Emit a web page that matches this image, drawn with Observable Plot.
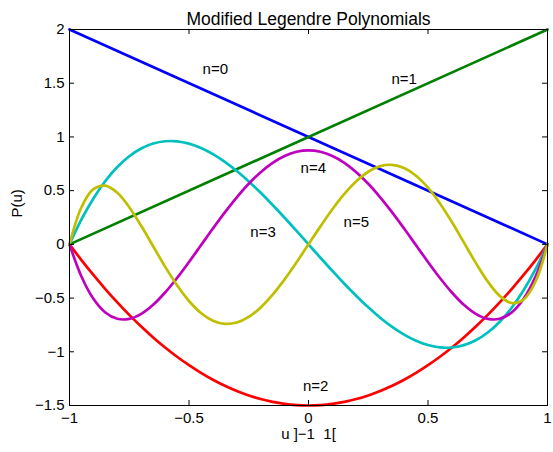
<!DOCTYPE html>
<html>
<head>
<meta charset="utf-8">
<script src="https://cdn.jsdelivr.net/npm/d3@7"></script>
<script src="https://cdn.jsdelivr.net/npm/@observablehq/plot@0.6"></script>
<style>
  html, body { margin: 0; padding: 0; background: #fff; }
  #chart svg { display: block; }
</style>
</head>
<body>
<div id="chart"></div>
<script>
// ---- data ----
const uLine = [-1, 1];
const p0 = [2, 0];
const p1 = [0, 2];

const u = [-1, -0.95, -0.9, -0.85, -0.8, -0.75, -0.7, -0.65, -0.6, -0.55, -0.5, -0.45, -0.4, -0.35, -0.3, -0.25, -0.2, -0.15, -0.1, -0.05,
  0, 0.05, 0.1, 0.15, 0.2, 0.25, 0.3, 0.35, 0.4, 0.45, 0.5, 0.55, 0.6, 0.65, 0.7, 0.75, 0.8, 0.85, 0.9, 0.95, 1];
const p2 = [0, -0.1463, -0.285, -0.4163, -0.54, -0.6563, -0.765, -0.8663, -0.96, -1.0463, -1.125, -1.1963, -1.26, -1.3163, -1.365, -1.4063, -1.44, -1.4663, -1.485, -1.4963,
  -1.5, -1.4963, -1.485, -1.4663, -1.44, -1.4063, -1.365, -1.3163, -1.26, -1.1963, -1.125, -1.0463, -0.96, -0.8663, -0.765, -0.6563, -0.54, -0.4163, -0.285, -0.1463, 0];
const p3 = [0, 0.2316, 0.4275, 0.5897, 0.72, 0.8203, 0.8925, 0.9384, 0.96, 0.9591, 0.9375, 0.8972, 0.84, 0.7678, 0.6825, 0.5859, 0.48, 0.3666, 0.2475, 0.1247,
  0, -0.1247, -0.2475, -0.3666, -0.48, -0.5859, -0.6825, -0.7678, -0.84, -0.8972, -0.9375, -0.9591, -0.96, -0.9384, -0.8925, -0.8203, -0.72, -0.5897, -0.4275, -0.2316, 0];
const p4 = [0, -0.2997, -0.5071, -0.6343, -0.693, -0.6938, -0.6471, -0.5622, -0.448, -0.3128, -0.1641, -0.0087, 0.147, 0.2975, 0.4379, 0.564, 0.672, 0.7591, 0.8229, 0.8619,
  0.875, 0.8619, 0.8229, 0.7591, 0.672, 0.564, 0.4379, 0.2975, 0.147, -0.0087, -0.1641, -0.3128, -0.448, -0.5622, -0.6471, -0.6938, -0.693, -0.6343, -0.5071, -0.2997, 0];
const p5 = [0, 0.3457, 0.5136, 0.546, 0.4795, 0.3461, 0.1727, -0.0179, -0.2074, -0.3809, -0.5273, -0.6389, -0.7106, -0.7403, -0.7279, -0.6757, -0.5875, -0.4689, -0.3263, -0.1673,
  0, 0.1673, 0.3263, 0.4689, 0.5875, 0.6757, 0.7279, 0.7403, 0.7106, 0.6389, 0.5273, 0.3809, 0.2074, 0.0179, -0.1727, -0.3461, -0.4795, -0.546, -0.5136, -0.3457, 0];

const seriesNames = ["n=0", "n=1", "n=2", "n=3", "n=4", "n=5"];
const seriesColors = ["#0000ff", "#008000", "#ff0000", "#00bfbf", "#bf00bf", "#bfbf00"];

const labelText = ["n=0", "n=1", "n=2", "n=3", "n=4", "n=5"];
const labelU = [-0.39, 0.40, 0.03, -0.19, 0.02, 0.20];
const labelP = [1.63, 1.54, -1.32, 0.11, 0.71, 0.21];

const xTicks = [-1, -0.5, 0, 0.5, 1];
const yTicks = [-1.5, -1, -0.5, 0, 0.5, 1, 1.5, 2];

const titleText = "Modified Legendre Polynomials";
const xLabelText = "u ]\u22121\u00a0 1[";
const yLabelText = "P(u)";

// ---- build tables ----
const seriesU = [uLine, uLine, u, u, u, u];
const seriesP = [p0, p1, p2, p3, p4, p5];
const rows = [];
seriesNames.forEach((name, k) => {
  seriesU[k].forEach((x, i) => rows.push({series: name, u: x, p: seriesP[k][i]}));
});
const labels = labelText.map((t, i) => ({text: t, u: labelU[i], p: labelP[i]}));

const fmt = d => (d < 0 ? "\u2212" + String(Math.abs(d)) : String(d));

const W = 553, H = 452, mL = 69, mR = 6, mT = 29, mB = 47;
const fw = W - mL - mR, fh = H - mT - mB, tick = 5;

const lineMarks = seriesNames.map((name, k) =>
  Plot.line(rows.filter(r => r.series === name), {
    x: "u", y: "p", stroke: seriesColors[k], strokeWidth: 2.7, curve: "catmull-rom"
  })
);

const chart = Plot.plot({
  width: W, height: H,
  marginLeft: mL, marginRight: mR, marginTop: mT, marginBottom: mB,
  style: {fontFamily: "'Liberation Sans', Arial, Helvetica, sans-serif", fontSize: "15px", background: "#fff", color: "#000", overflow: "visible"},
  x: {domain: [-1, 1]},
  y: {domain: [-1.5, 2]},
  marks: [
    ...lineMarks,
    Plot.frame({stroke: "#000", strokeWidth: 1}),
    Plot.tickX(xTicks, {x: d => d, insetTop: fh - tick, stroke: "#000"}),
    Plot.tickX(xTicks, {x: d => d, insetBottom: fh - tick, stroke: "#000"}),
    Plot.tickY(yTicks, {y: d => d, insetRight: fw - tick, stroke: "#000"}),
    Plot.tickY(yTicks, {y: d => d, insetLeft: fw - tick, stroke: "#000"}),
    Plot.axisX(xTicks, {tickSize: 0, tickPadding: 7, tickFormat: fmt, label: null, fontSize: 15}),
    Plot.axisY(yTicks, {tickSize: 0, tickPadding: 5, tickFormat: fmt, label: null, fontSize: 15}),
    Plot.text(labels, {x: "u", y: "p", text: "text", fontSize: 15, fill: "#000"}),
    Plot.text([titleText], {frameAnchor: "top", dy: -17, fontSize: 17.5, fill: "#000"}),
    Plot.text([xLabelText], {frameAnchor: "bottom", dy: 33, fontSize: 15, fill: "#000"}),
    Plot.text([yLabelText], {frameAnchor: "left", dx: -52, rotate: -90, fontSize: 15, fill: "#000"})
  ]
});
document.getElementById("chart").appendChild(chart);
</script>
</body>
</html>
